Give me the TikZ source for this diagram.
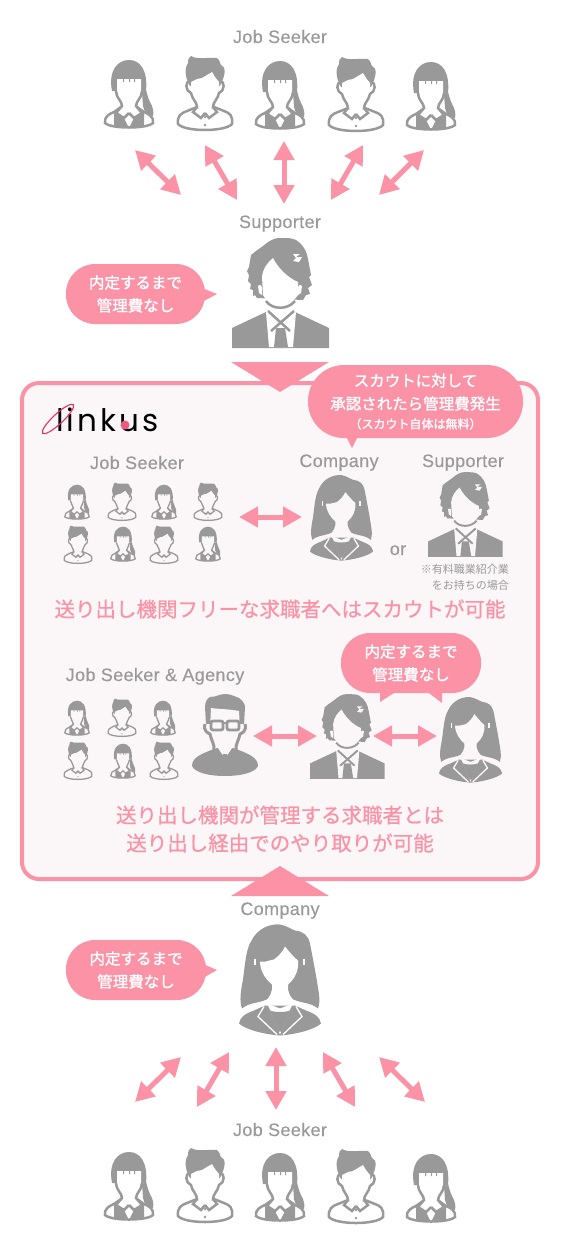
\documentclass[tikz,border=0pt]{standalone}
\usepackage{fontspec}
\usepackage{xcolor}
\usetikzlibrary{arrows.meta, positioning}
\setmainfont{Liberation Sans}
\newfontfamily\jpfont{Noto Sans CJK JP}
\newfontfamily\jpmedium[FakeBold=0.7]{Noto Sans CJK JP}
\newfontfamily\jpstrong[FakeBold=1.5]{Noto Sans CJK JP}
\newfontfamily\labelfont[LetterSpace=2,FakeBold=0.15]{Liberation Sans}
\newfontfamily\logofont[LetterSpace=10]{Poppins}
\definecolor{pinkmain}{HTML}{FB92A6}
\definecolor{framefill}{HTML}{FBF7F9}
\definecolor{icongray}{HTML}{999999}
\definecolor{logored}{HTML}{E8305F}
\colorlet{iconbg}{white}
\tikzset{
    bigarrow/.style={{Triangle[length=19pt,width=20pt]}-{Triangle[length=19pt,width=20pt]},
                     line width=5pt, draw=pinkmain},
    bubble/.style={fill=pinkmain, inner sep=0pt, text=white, align=center,
                   font=\jpstrong\fontsize{15.5}{23}\selectfont},
    graylabel/.style={text=icongray, inner sep=0pt, anchor=base, font=\labelfont\fontsize{18}{20}\selectfont},
    headline/.style={text=pinkmain, inner sep=0pt, align=center,
                     font=\jpmedium\fontsize{20.5}{28}\selectfont},
    noteline/.style={text=icongray, inner sep=0pt, font=\jpfont\fontsize{11}{15}\selectfont},
    bigicon/.style={line width=2.5pt},
    midicon/.style={scale=.77, line width=1.9pt},
    smallicon/.style={scale=.51, line width=1.3pt},
    pics/girlicon/.style={code={
        % hair and ponytail
        \fill[icongray] (-17,-3) .. controls (-21,-24) and (-11,-34) .. (0,-34)
            .. controls (11,-34) and (19,-24) .. (17,-3) -- cycle;
        \fill[icongray] (13,-2) -- (17,-4) .. controls (18,-1) and (19,4) .. (21,8)
            .. controls (24,13) and (25,18) .. (24,22) .. controls (19,22) and (15,18) .. (14,12) -- cycle;
        \filldraw[fill=iconbg, draw=icongray] (-24,29) .. controls (-25,23) and (-20,20) .. (-15,18)
            -- (-8,13) -- (8,13) -- (15,18) .. controls (20,20) and (25,23) .. (24,29)
            .. controls (18,35) and (-18,35) .. (-24,29) -- cycle;
        \fill[icongray] (-15,19) -- (-15,33) .. controls (-8,34) and (8,34) .. (15,33) -- (15,19)
            -- (5,24) -- (0,34) -- (-5,24) -- cycle;
        % face and neck
        \fill[iconbg] (-12,-15) -- (12,-15) -- (12,-2) .. controls (11,5) and (7,8) .. (8,14)
            -- (0,24) -- (-8,14) .. controls (-7,8) and (-11,5) .. (-12,-2) -- cycle;
        \fill[icongray] (-6,-15.5) rectangle (-5,-12) (0,-15.5) rectangle (1,-12) (5,-15.5) rectangle (6,-12);
        \draw[icongray] (-13,-3) .. controls (-13,4) and (-7,7) .. (-7,12) -- (-13,19) -- (-5,24) -- (0,19);
        \draw[icongray] (13,-3) .. controls (13,4) and (7,7) .. (7,12) -- (13,19) -- (5,24) -- (0,19);
    }},
    pics/boyicon/.style={code={
        \filldraw[fill=iconbg, draw=icongray] (-27,30) .. controls (-28,22) and (-24,19) .. (-18,17)
            -- (-8,13) -- (9,13) -- (19,17) .. controls (25,19) and (28,22) .. (27,30)
            .. controls (20,38) and (-20,38) .. (-27,30) -- cycle;
        % hair
        \fill[icongray] (-15,-8) .. controls (-21,-18) and (-20,-27) .. (-17,-31)
            .. controls (-17,-35) and (-16,-37) .. (-14,-38) .. controls (-8,-34) and (4,-37) .. (12,-36)
            .. controls (15,-34) and (15,-30) .. (16,-29) .. controls (21,-27) and (21,-20) .. (15,-8) -- cycle;
        % face and neck
        \fill[iconbg] (-14,-12) -- (-8,-15) -- (-3,-16) -- (7,-22) -- (10,-17) -- (14,-12)
            -- (14,0) .. controls (12,7) and (8,9) .. (8,13) -- (0,19) -- (-8,13)
            .. controls (-8,9) and (-12,7) .. (-14,0) -- cycle;
        \draw[icongray] (-15,-13) .. controls (-20,-13) and (-20,-3) .. (-14,-1)
            .. controls (-13,5) and (-8,8) .. (-8,13) -- (-12,18) -- (-4,24) -- (0,19);
        \draw[icongray] (15,-13) .. controls (20,-13) and (20,-3) .. (14,-1)
            .. controls (13,5) and (8,8) .. (8,13) -- (12,18) -- (4,24) -- (0,19);
        \fill[icongray] (0,23) circle (1.3) (0,31) circle (1.3);
    }},
    pics/supportericon/.style={code={
        % jacket
        \fill[icongray] (-48,35) -- (-14,19) -- (15,19) -- (49,35) -- (49,55) -- (-48,55) -- cycle;
        % hair with rough edge
        \fill[icongray] (-23,5) -- (-25,2) -- (-27,3) -- (-27,-3) -- (-30,-4) -- (-29,-9) -- (-32,-12)
            -- (-31,-18) -- (-33,-22) -- (-31,-26) -- (-29,-38) -- (-24,-42) -- (-17,-47)
            .. controls (-10,-53) and (-5,-55) .. (-1,-55) .. controls (8,-55) and (12,-55) .. (16,-53)
            .. controls (24,-48) and (27,-40) .. (28,-34) -- (31,-18) -- (29,-16) -- (32,-8)
            -- (28,-5) -- (30,1) -- (26,2) -- (23,7) -- cycle;
        % shirt and neck
        \fill[iconbg] (-14,19) -- (-12,5) -- (13,5) -- (16,19) -- (13,54) -- (-11,54) -- cycle;
        % face
        \fill[iconbg] (-18,-16) .. controls (-17,-25) and (-12,-31) .. (-7,-35)
            .. controls (-3,-27) and (6,-16) .. (18,-11) -- (18,2) .. controls (14,8) and (6,13) .. (1,13)
            .. controls (-6,13) and (-14,8) .. (-17,2) -- cycle;
        \fill[iconbg] (-22,-7) .. controls (-20,-9) and (-18,-8) .. (-18,-4) -- (-18,2) -- (-21,0) -- cycle
            (22,-7) .. controls (20,-9) and (18,-8) .. (18,-4) -- (18,2) -- (21,0) -- cycle;
        % chin line, collar and tie
        \draw[icongray] (-14,8) .. controls (-8,17) and (8,17) .. (15,8);
        \draw[icongray] (-12,18) -- (10,38) (14,18) -- (-9,38);
        \fill[icongray] (-4,35) -- (5,35) -- (8,54) -- (-6,54) -- cycle;
        % hair highlight
        \fill[iconbg] (13,-39) -- (20,-39) -- (16,-36) -- (22,-36) -- (19,-31) -- (13,-32) -- (16,-35) -- cycle;
    }},
    pics/companyicon/.style={code={
        % hair
        \fill[icongray] (-38,29) .. controls (-41,22) and (-39,10) .. (-37,0)
            .. controls (-35,-15) and (-34,-30) .. (-29,-38) .. controls (-23,-51) and (-10,-56) .. (0,-55)
            .. controls (6,-54) and (12,-50) .. (15,-49) .. controls (24,-48) and (28,-44) .. (30,-36)
            .. controls (33,-20) and (37,0) .. (39,15) .. controls (40,22) and (39,26) .. (38,29)
            .. controls (30,22) and (18,24) .. (10,18) -- (-10,18) .. controls (-18,24) and (-30,22) .. (-38,29) -- cycle;
        % face and neck
        \fill[iconbg] (-20,-18) .. controls (-12,-17) and (-10,-20) .. (-6,-20)
            .. controls (-2,-23) and (3,-28) .. (5,-33) .. controls (9,-28) and (14,-22) .. (18,-19)
            .. controls (19,-8) and (14,0) .. (8,5) .. controls (7,12) and (10,18) .. (17,24)
            -- (0,30) -- (-17,24) .. controls (-10,18) and (-7,12) .. (-8,5)
            .. controls (-14,0) and (-20,-8) .. (-20,-18) -- cycle;
        \draw[iconbg, line width=1.3pt] (-25,-21) -- (-25,-15) (24,-21) -- (24,-15);
        % jacket
        \fill[icongray] (-41,44) .. controls (-40,37) and (-34,34) .. (-26,31) -- (-15,26) -- (15,26)
            -- (26,31) .. controls (34,34) and (40,37) .. (41,44) .. controls (35,50) and (15,55) .. (0,56)
            .. controls (-15,55) and (-35,50) .. (-41,44) -- cycle;
        \fill[iconbg] (-13,24) -- (0,29) -- (13,24) -- (10,30) -- (0,55) -- (-10,30) -- cycle;
        \fill[icongray] (-10,31) .. controls (-5,33) and (5,33) .. (10,31) -- (1.5,52) -- (-1.5,52) -- cycle;
        \draw[iconbg, line width=1.3pt] (-16,27) -- (-22,37) -- (-3,55) (16,27) -- (22,37) -- (3,55);
    }},
    pics/agencyicon/.style={code={
        % jacket
        \fill[icongray] (-33,31) .. controls (-33,22) and (-22,18) .. (-8,13) -- (8,13)
            .. controls (22,18) and (33,22) .. (33,31) .. controls (30,38) and (15,41) .. (0,41)
            .. controls (-15,41) and (-30,38) .. (-33,31) -- cycle;
        % hair
        \fill[icongray] (-19,-10) -- (-20,-28) .. controls (-20,-34) and (-17,-37) .. (-15,-38)
            .. controls (-8,-38) and (-6,-41) .. (0,-41) .. controls (6,-41) and (11,-38) .. (14,-37)
            .. controls (18,-34) and (20,-31) .. (20,-28) -- (19,-10) -- cycle;
        % face and neck
        \fill[iconbg] (-14,-27) .. controls (-8,-26) and (4,-26) .. (14,-24) -- (15,-6)
            .. controls (14,2) and (9,8) .. (7,13) -- (0,24) -- (-7,13) .. controls (-9,8) and (-14,2) .. (-15,-6) -- cycle;
        \fill[iconbg] (-22,-12) -- (-14,-12) -- (-14,-2) -- (-20,-2) -- cycle (22,-12) -- (14,-12) -- (14,-2) -- (20,-2) -- cycle;
        \draw[icongray, line width=3pt] (-20,-11) .. controls (-22,-4) and (-17,-2) .. (-15,-1)
            .. controls (-14,5) and (-10,10) .. (-11,15);
        \draw[icongray, line width=3pt] (20,-11) .. controls (22,-4) and (17,-2) .. (15,-1)
            .. controls (14,5) and (10,10) .. (11,15);
        % glasses
        \draw[icongray, line width=2.8pt, rounded corners=2pt] (-14,-14) rectangle (-2,-5) (2,-14) rectangle (14,-5);
        \draw[icongray, line width=2.8pt] (-2,-12) -- (2,-12) (-14,-12) -- (-19,-12) (14,-12) -- (19,-12);
        % collar and tie
        \fill[icongray] (-9,15) -- (-3,19) -- (-1,27) -- (-4,28) -- cycle (9,15) -- (3,19) -- (1,27) -- (4,28) -- cycle;
        \fill[icongray] (-2,19) -- (2,19) -- (3,33) -- (-3,33) -- cycle;
    }}
}
\begin{document}
\begin{tikzpicture}[x=1pt, y=-1pt]
\useasboundingbox (0,0) rectangle (560,1240);

% Top job seekers
\node[graylabel] (seekertop) at (280,43) {Job Seeker};
\pic[bigicon] (t1) at (129,94) {girlicon};
\pic[bigicon] (t2) at (205,94) {boyicon};
\pic[bigicon] (t3) at (280,95) {girlicon};
\pic[bigicon] (t4) at (356,95) {boyicon};
\pic[bigicon] (t5) at (431,96) {girlicon};

\coordinate (t1a) at (135,150); \coordinate (t1b) at (181,195);
\coordinate (t2a) at (205,145); \coordinate (t2b) at (237,200);
\coordinate (t3a) at (284,141); \coordinate (t3b) at (284,204);
\coordinate (t4a) at (363,145); \coordinate (t4b) at (331,200);
\coordinate (t5a) at (424,150); \coordinate (t5b) at (379,195);
\draw[bigarrow] (t1a) -- (t1b);
\draw[bigarrow] (t2a) -- (t2b);
\draw[bigarrow] (t3a) -- (t3b);
\draw[bigarrow] (t4a) -- (t4b);
\draw[bigarrow] (t5a) -- (t5b);

% Supporter
\node[graylabel] (supportertop) at (280,228) {Supporter};
\pic[bigicon] (sup) at (280,293) {supportericon};
\node[bubble, minimum width=139pt, minimum height=60pt, rounded corners=29pt] (feetop) at (135.5,294) {内定するまで\\管理費なし};
\fill[pinkmain] (202,288) -- (217,294) -- (202,302) -- cycle;

% Frame
\node[draw=pinkmain, fill=framefill, line width=4pt, rounded corners=17pt, inner sep=0pt,
      minimum width=516pt, minimum height=496pt] (frame) at (280,631) {};
\fill[pinkmain] (231,362) -- (329,362) -- (280,392) -- cycle;
\fill[pinkmain] (280,866) -- (329,896) -- (231,896) -- cycle;

% Logo
\node[inner sep=0pt, text=black, anchor=base west, font=\logofont\fontsize{31}{31}\selectfont] (logo) at (56,431) {linkus};
\draw[logored, line width=1.1pt, rotate around={43:(58,419)}] (58,419) ellipse (21 and 5);
\fill[logored!80] (125,425) circle (4.5);

% Scout bubble
\node[bubble, minimum width=215pt, minimum height=73pt, rounded corners=36pt] (feescout) at (415.5,401.5)
    {スカウトに対して\\承認されたら管理費発生\\[-4pt]{\fontsize{12}{15}\selectfont （スカウト自体は無料）}};
\fill[pinkmain] (346,436) -- (358,436) -- (352,448) -- cycle;

\begin{scope}
\colorlet{iconbg}{framefill}
% First row of the frame
\node[graylabel] (seekerfree) at (137,469) {Job Seeker};
\pic[smallicon] (f1) at (77,502) {girlicon};
\pic[smallicon] (f2) at (122,502) {boyicon};
\pic[smallicon] (f3) at (164,502) {girlicon};
\pic[smallicon] (f4) at (208,502) {boyicon};
\pic[smallicon] (f5) at (78,545) {boyicon};
\pic[smallicon] (f6) at (123,544) {girlicon};
\pic[smallicon] (f7) at (164,545) {boyicon};
\pic[smallicon] (f8) at (208,544) {girlicon};
\coordinate (fa) at (239,517); \coordinate (fb) at (302,517);
\draw[bigarrow] (fa) -- (fb);
\node[graylabel] (companyfree) at (339,467) {Company};
\node[graylabel] (supporterfree) at (463,467) {Supporter};
\pic[midicon] (cf) at (341.5,517.5) {companyicon};
\pic[midicon] (sf) at (465,514.5) {supportericon};
\node[graylabel] (ortext) at (398,555) {or};
\node[noteline, anchor=east] (note1) at (509,569) {※有料職業紹介業};
\node[noteline, anchor=east] (note2) at (509,585) {をお持ちの場合};
\node[headline] (headfree) at (280,609) {送り出し機関フリーな求職者へはスカウトが可能};

% Second row of the frame
\node[graylabel] (seekeragency) at (155,681) {Job Seeker \& Agency};
\pic[smallicon] (m1) at (77,718) {girlicon};
\pic[smallicon] (m2) at (122,718) {boyicon};
\pic[smallicon] (m3) at (163,718) {girlicon};
\pic[smallicon] (m4) at (78,761) {boyicon};
\pic[smallicon] (m5) at (123,761) {girlicon};
\pic[smallicon] (m6) at (164,761) {boyicon};
\pic[bigicon] (ag) at (225,735) {agencyicon};
\pic[midicon] (sm) at (347,736.5) {supportericon};
\pic[midicon] (cm) at (470.5,739.5) {companyicon};
\coordinate (ma) at (253,736); \coordinate (mb) at (317,736);
\coordinate (mc) at (373,736); \coordinate (md) at (437,736);
\draw[bigarrow] (ma) -- (mb);
\draw[bigarrow] (mc) -- (md);
\node[bubble, minimum width=140pt, minimum height=60pt, rounded corners=29pt] (feemid) at (411,663) {内定するまで\\管理費なし};
\fill[pinkmain] (380,690) -- (380,702) -- (397,691) -- cycle;
\fill[pinkmain] (425,690) -- (442,703) -- (442,688) -- cycle;
\node[headline] (headagency) at (280,829) {送り出し機関が管理する求職者とは\\送り出し経由でのやり取りが可能};
\end{scope}

% Company
\node[graylabel] (companybot) at (280,915) {Company};
\pic[bigicon] (cb) at (280,979.5) {companyicon};
\node[bubble, minimum width=140pt, minimum height=60pt, rounded corners=29pt] (feebot) at (136,970) {内定するまで\\管理費なし};
\fill[pinkmain] (203,964) -- (217,970) -- (203,978) -- cycle;

\coordinate (b1a) at (181,1057); \coordinate (b1b) at (135,1102);
\coordinate (b2a) at (229,1052); \coordinate (b2b) at (197,1107);
\coordinate (b3a) at (276,1047); \coordinate (b3b) at (276,1110);
\coordinate (b4a) at (323,1052); \coordinate (b4b) at (355,1107);
\coordinate (b5a) at (379,1057); \coordinate (b5b) at (425,1102);
\draw[bigarrow] (b1a) -- (b1b);
\draw[bigarrow] (b2a) -- (b2b);
\draw[bigarrow] (b3a) -- (b3b);
\draw[bigarrow] (b4a) -- (b4b);
\draw[bigarrow] (b5a) -- (b5b);

% Bottom job seekers
\node[graylabel] (seekerbot) at (280,1136) {Job Seeker};
\pic[bigicon] (b1) at (129,1186) {girlicon};
\pic[bigicon] (b2) at (205,1186) {boyicon};
\pic[bigicon] (b3) at (280,1187) {girlicon};
\pic[bigicon] (b4) at (356,1187) {boyicon};
\pic[bigicon] (b5) at (431,1188) {girlicon};
\end{tikzpicture}
\end{document}
